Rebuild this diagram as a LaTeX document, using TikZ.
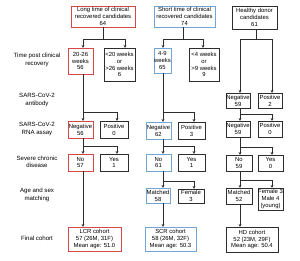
\documentclass[tikz,border=0pt]{standalone}
\usepackage{fontspec}
\setmainfont{Liberation Sans}
\usetikzlibrary{arrows.meta}
\definecolor{cred}{RGB}{214,72,72}
\definecolor{cblue}{RGB}{115,165,212}
\definecolor{cgray}{RGB}{45,45,45}
\newcommand\bx[7]{%
 \pgfmathsetmacro\bxw{#4-#2}\pgfmathsetmacro\bxh{#5-#3}%
 \pgfmathsetmacro\bxx{(#2+#4)/2}\pgfmathsetmacro\bxy{(#3+#5)/2}%
 \node[box,#6,minimum width=\bxw pt,minimum height=\bxh pt] (#1) at (\bxx,\bxy) {#7};}
\tikzset{
 box/.style={draw=cgray,line width=0.85pt,inner sep=0pt,outer sep=0pt,align=center,fill=white,
   font=\fontsize{5.9}{6.8}\selectfont},
 rbox/.style={draw=cred},
 bbox/.style={draw=cblue},
 lab/.style={align=center,inner sep=0pt,font=\fontsize{6.1}{7.2}\selectfont},
 ln/.style={draw=cgray,line width=0.85pt},
 arr/.style={ln,-{Stealth[length=3pt,width=2.8pt]}}
}
\begin{document}
\begin{tikzpicture}[x=1pt,y=-1pt]
\useasboundingbox[fill=white] (0,0) rectangle (300,260);
% left labels
\node[lab] (l1) at (37,60) {Time post clinical\\recovery};
\node[lab] (l2) at (37,100) {SARS-CoV-2\\antibody};
\node[lab] (l3) at (37,129) {SARS-CoV-2\\RNA assay};
\node[lab] (l4) at (37,162) {Severe chronic\\disease};
\node[lab] (l5) at (37,195) {Age and sex\\matching};
\node[lab] (l6) at (37,238) {Final cohort};
% column 1
\bx{t1}{71}{6}{135}{27}{rbox}{Long time of clinical\\recovered candidates\\64}
\bx{a1}{68}{48}{93}{74}{rbox}{20-26\\weeks\\56}
\bx{b1}{104}{48}{135}{81}{}{<20 weeks\\or\\>26 weeks\\6}
\bx{n1}{68}{121}{93}{138}{rbox}{Negative\\56}
\bx{p1}{100}{121}{128}{138}{}{Positive\\0}
\bx{no1}{68}{154}{93}{171}{rbox}{No\\57}
\bx{y1}{100}{154}{128}{171}{}{Yes\\1}
\bx{f1}{68}{227}{121}{251}{rbox}{LCR cohort\\57 (26M, 31F)\\Mean age: 51.0}
% column 2
\bx{t2}{154}{6}{215}{27}{bbox}{Short time of clinical\\recovered candidates\\74}
\bx{a2}{154}{48}{171}{73}{bbox}{4-9\\weeks\\65}
\bx{b2}{189}{48}{219}{81}{}{<4 weeks\\or\\>9 weeks\\9}
\bx{n2}{146}{122}{171}{139}{bbox}{Negative\\62}
\bx{p2}{178}{122}{205}{139}{}{Positive\\3}
\bx{no2}{146}{154}{171}{171}{bbox}{No\\61}
\bx{y2}{178}{154}{205}{171}{}{Yes\\1}
\bx{m2}{146}{188}{170}{203}{bbox}{Matched\\58}
\bx{fe2}{178}{189}{204}{203}{}{Female\\3}
\bx{f2}{145}{227}{196}{251}{bbox}{SCR cohort\\58 (26M, 32F)\\Mean age: 50.3}
% column 3
\bx{t3}{232}{6}{277}{29}{}{Healthy donor\\candidates\\61}
\bx{n3a}{226}{93}{250}{108}{}{Negative\\59}
\bx{p3a}{258}{93}{282}{108}{}{Positive\\2}
\bx{n3b}{226}{121}{250}{137}{}{Negative\\59}
\bx{p3b}{258}{121}{282}{137}{}{Positive\\0}
\bx{no3}{226}{155}{252}{171}{}{No\\59}
\bx{y3}{258}{155}{283}{171}{}{Yes\\0}
\bx{m3}{226}{188}{252}{204}{}{Matched\\52}
\bx{fe3}{258}{188}{283}{210}{}{Female 3\\Male 4\\(young)}
\bx{f3}{226}{227}{278}{252}{}{HD cohort\\52 (23M, 29F)\\Mean age: 50.4}
% spines
\coordinate (c1) at (83,0); \coordinate (d1) at (117,0);
\coordinate (c2) at (163,0); \coordinate (d2) at (194,0);
\coordinate (c3) at (240,0); \coordinate (d3) at (272,0);
% column 1 connectors
\draw[ln] (t1.south) -- (t1.south |- 0,39) coordinate (j1);
\draw[arr] (j1) -| (a1.north -| c1);
\draw[arr] (j1) -| (b1.north -| 125,0);
\draw[arr] (a1.south -| c1) -- (n1.north -| c1);
\draw[arr] (c1 |- 0,112) -| (p1.north -| d1);
\draw[arr] (n1.south -| c1) -- (no1.north -| c1);
\draw[arr] (c1 |- 0,146) -| (y1.north -| d1);
\draw[arr] (no1.south -| c1) -- (f1.north -| c1);
% column 2 connectors
\draw[ln] (t2.south -| 183,0) -- (183,39) coordinate (j2);
\draw[arr] (j2) -| (a2.north -| c2);
\draw[arr] (j2) -| (b2.north -| 203,0);
\draw[arr] (a2.south -| c2) -- (n2.north -| c2);
\draw[arr] (c2 |- 0,112) -| (p2.north -| d2);
\draw[arr] (n2.south -| c2) -- (no2.north -| c2);
\draw[arr] (c2 |- 0,146) -| (y2.north -| d2);
\draw[arr] (no2.south -| c2) -- (m2.north -| c2);
\draw[arr] (c2 |- 0,181) -| (fe2.north -| d2);
\draw[arr] (m2.south -| c2) -- (f2.north -| c2);
% column 3 connectors
\draw[ln] (t3.south -| 256,0) -- (256,39) coordinate (j3);
\draw[arr] (j3) -| (n3a.north -| c3);
\draw[arr] (j3) -| (p3a.north -| d3);
\draw[arr] (n3a.south -| c3) -- (n3b.north -| c3);
\draw[arr] (c3 |- 0,114) -| (p3b.north -| d3);
\draw[arr] (n3b.south -| c3) -- (no3.north -| c3);
\draw[arr] (c3 |- 0,147) -| (y3.north -| d3);
\draw[arr] (no3.south -| c3) -- (m3.north -| c3);
\draw[arr] (c3 |- 0,180) -| (fe3.north -| d3);
\draw[arr] (m3.south -| c3) -- (f3.north -| c3);
\end{tikzpicture}
\end{document}
